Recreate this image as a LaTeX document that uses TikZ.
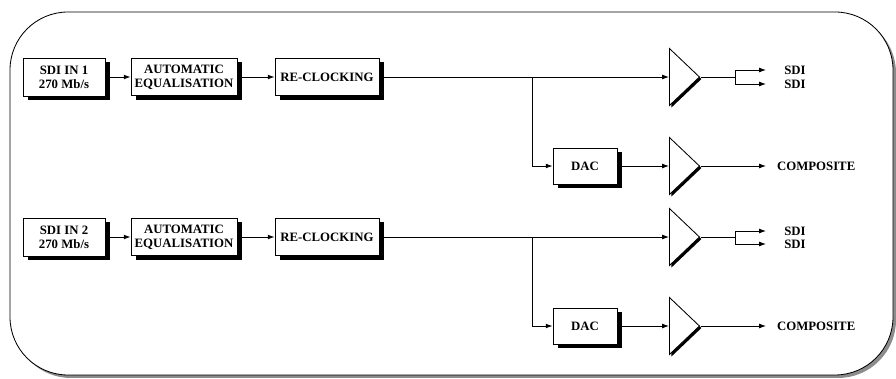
\documentclass[tikz,border=0pt]{standalone}
\usepackage{fontspec}
\setmainfont{Liberation Serif}
\usetikzlibrary{arrows.meta}
\usetikzlibrary{shapes.geometric}
\usetikzlibrary{shadows}
\usetikzlibrary{positioning}
\definecolor{rahmengrau}{rgb}{0.55,0.55,0.55}
\tikzset{
  block/.style={draw, fill=white, semithick, align=center, inner sep=1pt,
    font=\fontsize{9.1}{10}\selectfont\bfseries,
    drop shadow={shadow xshift=0.125cm, shadow yshift=-0.1cm, opacity=1, fill=black}},
  amp/.style={draw, fill=white, semithick, isosceles triangle, isosceles triangle stretches,
    minimum width=1.425cm, minimum height=0.75cm, inner sep=0pt, anchor=west,
    drop shadow={shadow xshift=0.05cm, shadow yshift=-0.05cm, opacity=1, fill=black}},
  lbl/.style={inner sep=0pt, anchor=west, font=\fontsize{9.1}{10}\selectfont\bfseries},
  sig/.style={semithick, -{Latex[length=0.17cm, width=0.12cm]}},
  wire/.style={semithick}
}

\begin{document}
\begin{tikzpicture}[x=0.025cm, y=-0.025cm]
\useasboundingbox (0,0) rectangle (896,379);
% frame
\fill[rahmengrau, rounded corners=1.45cm] (13,15) rectangle (896,378);
\draw[fill=white, semithick, rounded corners=1.45cm] (10,12) rectangle (893,375);

% first channel
\node[block, minimum width=2.05cm, minimum height=0.95cm] (in1) at (64,77) {SDI IN 1\\270 Mb/s};
\node[block, minimum width=2.65cm, minimum height=0.93cm] (eq1) at (184,77) {AUTOMATIC\\EQUALISATION};
\node[block, minimum width=2.6cm, minimum height=0.93cm] (rc1) at (327,77) {RE-CLOCKING};
\node[block, minimum width=1.6cm, minimum height=0.9cm] (dac1) at (585,166) {DAC};
\node[amp] (amp1) at (669,77) {};
\node[amp] (amp2) at (669,166) {};
\coordinate (split1) at (532,77);
\coordinate (fork1) at (735,77);
\coordinate (sdi1a) at (766,70);
\coordinate (sdi1b) at (766,84);
\coordinate (comp1) at (766,166);
\node[lbl, right=0.45cm of sdi1a] (lsdi1a) {SDI};
\node[lbl, right=0.45cm of sdi1b] (lsdi1b) {SDI};
\node[lbl, right=0.27cm of comp1] (lcomp1) {COMPOSITE};
\draw[sig] (in1) -- (eq1);
\draw[sig] (eq1) -- (rc1);
\draw[sig] (rc1) -- (amp1.west);
\draw[sig] (split1) |- (dac1.west);
\draw[sig] (dac1) -- (amp2.west);
\draw[wire] (amp1.apex) -- (fork1);
\draw[sig] (fork1) |- (sdi1a);
\draw[sig] (fork1) |- (sdi1b);
\draw[sig] (amp2.apex) -- (comp1);

% second channel
\node[block, minimum width=2.05cm, minimum height=0.95cm] (in2) at (64,237) {SDI IN 2\\270 Mb/s};
\node[block, minimum width=2.65cm, minimum height=0.93cm] (eq2) at (184,237) {AUTOMATIC\\EQUALISATION};
\node[block, minimum width=2.6cm, minimum height=0.93cm] (rc2) at (327,237) {RE-CLOCKING};
\node[block, minimum width=1.6cm, minimum height=0.9cm] (dac2) at (585,326) {DAC};
\node[amp] (amp3) at (669,237) {};
\node[amp] (amp4) at (669,326) {};
\coordinate (split2) at (532,237);
\coordinate (fork2) at (735,237);
\coordinate (sdi2a) at (766,231);
\coordinate (sdi2b) at (766,244);
\coordinate (comp2) at (766,326);
\node[lbl, right=0.45cm of sdi2a] (lsdi2a) {SDI};
\node[lbl, right=0.45cm of sdi2b] (lsdi2b) {SDI};
\node[lbl, right=0.27cm of comp2] (lcomp2) {COMPOSITE};
\draw[sig] (in2) -- (eq2);
\draw[sig] (eq2) -- (rc2);
\draw[sig] (rc2) -- (amp3.west);
\draw[sig] (split2) |- (dac2.west);
\draw[sig] (dac2) -- (amp4.west);
\draw[wire] (amp3.apex) -- (fork2);
\draw[sig] (fork2) |- (sdi2a);
\draw[sig] (fork2) |- (sdi2b);
\draw[sig] (amp4.apex) -- (comp2);

\end{tikzpicture}
\end{document}
